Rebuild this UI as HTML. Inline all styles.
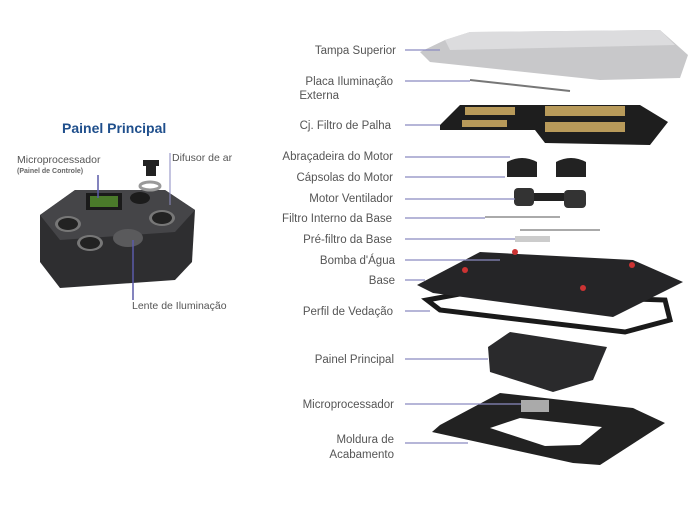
<!DOCTYPE html>
<html><head><meta charset="utf-8"><style>
body{margin:0;background:#fff;width:700px;height:520px;overflow:hidden}
svg{display:block}
text{font-family:"Liberation Sans",sans-serif;fill:#555;font-size:11.5px}
</style></head><body>
<svg width="700" height="520" viewBox="0 0 700 520">
<text x="62" y="133" style="font-size:14px;font-weight:bold;fill:#1f4f8c">Painel Principal</text>
<text x="17" y="163" style="font-size:10.5px">Microprocessador</text>
<text x="17" y="173" style="font-size:7px;font-weight:bold;fill:#666">(Painel de Controle)</text>
<text x="172" y="161" style="font-size:10.5px">Difusor de ar</text>
<text x="132" y="309" style="font-size:10.5px">Lente de Iluminação</text>
<polygon points="40,215 75,190 165,190 195,210 192,262 175,280 60,288 40,262" fill="#2e2e30"/>
<polygon points="40,215 75,190 165,190 195,210 175,232 60,240" fill="#454548"/>
<rect x="86" y="193" width="36" height="17" fill="#1a1a1a"/>
<rect x="90" y="196" width="28" height="11" fill="#4a7a2a"/>
<ellipse cx="68" cy="224" rx="13" ry="8" fill="#777"/><ellipse cx="68" cy="224" rx="10" ry="6" fill="#222"/>
<ellipse cx="90" cy="243" rx="13" ry="8" fill="#777"/><ellipse cx="90" cy="243" rx="10" ry="6" fill="#222"/>
<ellipse cx="162" cy="218" rx="13" ry="8" fill="#777"/><ellipse cx="162" cy="218" rx="10" ry="6" fill="#222"/>
<ellipse cx="140" cy="198" rx="10" ry="6" fill="#1c1c1c"/>
<ellipse cx="128" cy="238" rx="15" ry="9" fill="#5a5a5c"/>
<ellipse cx="150" cy="186" rx="10" ry="4" fill="none" stroke="#999" stroke-width="3"/>
<path d="M143 160 h16 v6 h-3 v10 h-10 v-10 h-3z" fill="#222"/>
<line x1="98" y1="175" x2="98" y2="198" stroke="#5a5aa8" stroke-width="1.5"/>
<line x1="170" y1="153" x2="170" y2="205" stroke="#8a8ac0"/>
<line x1="133" y1="240" x2="133" y2="300" stroke="#5a5aa8" stroke-width="1.5"/>
<g text-anchor="end">
<text x="396" y="54">Tampa Superior</text>
<text x="393" y="85">Placa Iluminação</text>
<text x="339" y="99">Externa</text>
<text x="391" y="129">Cj. Filtro de Palha</text>
<text x="393" y="160">Abraçadeira do Motor</text>
<text x="393" y="181">Cápsolas do Motor</text>
<text x="393" y="202">Motor Ventilador</text>
<text x="392" y="222">Filtro Interno da Base</text>
<text x="392" y="243">Pré-filtro da Base</text>
<text x="395" y="264">Bomba d'Água</text>
<text x="395" y="284">Base</text>
<text x="393" y="315">Perfil de Vedação</text>
<text x="394" y="363">Painel Principal</text>
<text x="394" y="408">Microprocessador</text>
<text x="394" y="443">Moldura de</text>
<text x="394" y="458">Acabamento</text>
</g>
<polygon points="445,40 470,32 660,30 688,55 680,78 600,80 430,62 420,52" fill="#c8c8ca"/>
<polygon points="445,40 470,32 660,30 675,45 450,50" fill="#dcdcde"/>
<line x1="470" y1="80" x2="570" y2="91" stroke="#777" stroke-width="2"/>
<polygon points="440,125 460,105 640,105 668,122 650,145 545,143 535,130 440,130" fill="#1e1e1e"/>
<g fill="#b89a5a">
<rect x="465" y="107" width="50" height="8"/><rect x="545" y="106" width="80" height="10"/>
<rect x="462" y="120" width="45" height="7"/><rect x="545" y="122" width="80" height="10"/>
</g>
<path d="M507 162 q15 -8 30 0 v15 h-30z M556 162 q15 -8 30 0 v15 h-30z" fill="#222"/>
<rect x="514" y="188" width="20" height="18" rx="4" fill="#333"/><rect x="534" y="193" width="30" height="8" fill="#222"/><rect x="564" y="190" width="22" height="18" rx="4" fill="#333"/>
<path d="M485 217 h75 M520 230 h80" stroke="#aaa" stroke-width="2" fill="none"/>
<rect x="515" y="236" width="35" height="6" fill="#ccc"/>
<polygon points="427,300 465,293 665,300 670,320 625,332 440,310" fill="none" stroke="#1a1a1a" stroke-width="5"/>
<polygon points="417,285 480,252 633,260 683,282 613,317 433,293" fill="#252527"/>
<circle cx="465" cy="270" r="3" fill="#c33"/><circle cx="515" cy="252" r="3" fill="#c33"/><circle cx="583" cy="288" r="3" fill="#c33"/><circle cx="632" cy="265" r="3" fill="#c33"/>
<polygon points="488,347 510,332 607,347 593,380 553,392 490,372" fill="#2a2a2c"/>
<polygon points="500,393 633,408 665,423 600,465 573,463 432,432 440,425" fill="#222"/>
<polygon points="490,428 520,418 602,427 580,445 545,446" fill="#fff"/>
<rect x="521" y="400" width="28" height="12" fill="#aaa"/>
<g stroke="#8a8ac0" stroke-width="1.2">
<line x1="405" y1="50" x2="440" y2="50"/><line x1="405" y1="81" x2="470" y2="81"/>
<line x1="405" y1="125" x2="440" y2="125"/><line x1="405" y1="157" x2="510" y2="157"/>
<line x1="405" y1="177" x2="505" y2="177"/><line x1="405" y1="199" x2="515" y2="199"/>
<line x1="405" y1="218" x2="485" y2="218"/><line x1="405" y1="239" x2="515" y2="239"/>
<line x1="405" y1="260" x2="500" y2="260"/><line x1="405" y1="280" x2="425" y2="280"/>
<line x1="405" y1="311" x2="430" y2="311"/><line x1="405" y1="359" x2="488" y2="359"/>
<line x1="405" y1="404" x2="521" y2="404"/><line x1="405" y1="443" x2="468" y2="443"/>
</g>
</svg>
</body></html>
